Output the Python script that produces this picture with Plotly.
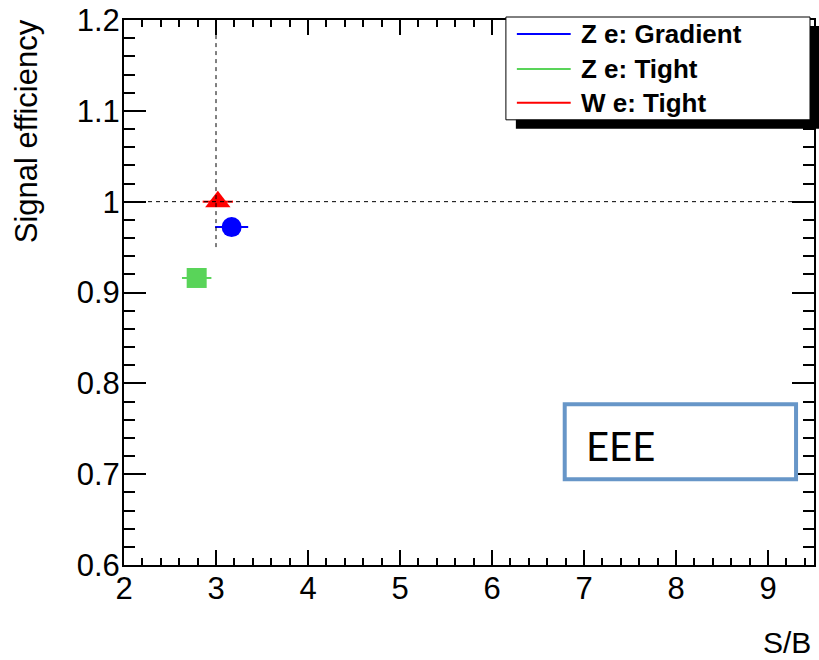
import plotly.graph_objects as go

# ---- data ----
series_names = ["Z e: Gradient", "Z e: Tight", "W e: Tight"]
sb_values = [3.17, 2.79, 3.02]
sb_errors = [0.18, 0.16, 0.165]
eff_values = [0.972, 0.916, 1.000]
series_colors = ["#0000ff", "#59d459", "#ff0000"]
series_symbols = ["circle", "square", "triangle-up"]
marker_sizes = [20, 20, 22]
ref_x = 3.0
ref_x_low = 0.95
ref_y = 1.0
x_range = [2, 9.5]
y_range = [0.6, 1.2]
region_label = "EEE"
x_title = "S/B"
y_title = "Signal efficiency"

W, H = 819, 660
L, R, T, B = 124, 3, 19, 95
pw, ph = W - L - R, H - T - B


def xp(px):
    return (px - L) / pw


def yp(py):
    return (H - B - py) / ph


FONT = "Liberation Sans, Arial, Helvetica, sans-serif"

fig = go.Figure()
for name, x, ex, y, c, s, ms in zip(series_names, sb_values, sb_errors, eff_values,
                                     series_colors, series_symbols, marker_sizes):
    fig.add_trace(go.Scatter(
        x=[x], y=[y], mode="markers", name=name,
        marker=dict(color=c, symbol=s, size=ms, line=dict(width=0)),
        error_x=dict(type="data", array=[ex], color=c, thickness=2, width=0),
        showlegend=False,
    ))

shapes = []
# reference dashed lines
shapes.append(dict(type="line", xref="x", yref="y", x0=x_range[0], x1=x_range[1], y0=ref_y, y1=ref_y,
                   line=dict(color="black", width=1, dash="4px,4px"), layer="above"))
shapes.append(dict(type="line", xref="x", yref="y", x0=ref_x, x1=ref_x, y0=ref_x_low, y1=y_range[1],
                   line=dict(color="black", width=1, dash="4px,4px"), layer="above"))
# legend shadow + box
shapes.append(dict(type="rect", xref="paper", yref="paper", x0=xp(517), x1=xp(824), y0=yp(128), y1=yp(25),
                   fillcolor="black", line=dict(width=0), layer="above"))
shapes.append(dict(type="rect", xref="paper", yref="paper", x0=xp(507), x1=xp(812), y0=yp(119), y1=yp(16),
                   fillcolor="white", line=dict(color="black", width=1), layer="above"))
annotations = []
legend_rows = [33, 68, 102]
for name, c, ry in zip(series_names, series_colors, legend_rows):
    shapes.append(dict(type="line", xref="paper", yref="paper", x0=xp(518), x1=xp(572), y0=yp(ry), y1=yp(ry),
                       line=dict(color=c, width=2), layer="above"))
    annotations.append(dict(text="<b>" + name + "</b>", xref="paper", yref="paper", x=xp(580), y=yp(ry),
                            xanchor="left", yanchor="middle", showarrow=False,
                            font=dict(family=FONT, size=26, color="black")))
# EEE box
shapes.append(dict(type="rect", xref="paper", yref="paper", x0=xp(566), x1=xp(798), y0=yp(479), y1=yp(404),
                   fillcolor="white", line=dict(color="#6796c8", width=4), layer="above"))
annotations.append(dict(text=region_label, xref="paper", yref="paper", x=xp(585), y=yp(446),
                        xanchor="left", yanchor="middle", showarrow=False,
                        font=dict(family="Lato, Open Sans, sans-serif", size=40, color="black")))
# axis titles
annotations.append(dict(text=x_title, xref="paper", yref="paper", x=xp(815), y=yp(643),
                        xanchor="right", yanchor="middle", showarrow=False,
                        font=dict(family=FONT, size=30, color="black")))
annotations.append(dict(text=y_title, xref="paper", yref="paper", x=xp(26), y=yp(16),
                        xanchor="center", yanchor="top", textangle=-90, showarrow=False,
                        font=dict(family=FONT, size=31, color="black")))

axis_common = dict(showgrid=False, zeroline=False, showline=True, linecolor="black", linewidth=2,
                   mirror="ticks", ticks="inside", tickcolor="black", tickwidth=1.5,
                   tickfont=dict(family=FONT, size=31, color="black"))
fig.update_layout(
    width=W, height=H, margin=dict(l=L, r=R, t=T, b=B),
    paper_bgcolor="white", plot_bgcolor="white",
    xaxis=dict(range=x_range, tick0=2, dtick=1, ticklen=15, ticklabelstandoff=-5,
               minor=dict(dtick=0.2, ticklen=7, ticks="inside", tickcolor="black", tickwidth=1.5, showgrid=False),
               **axis_common),
    yaxis=dict(range=y_range, tick0=0.6, dtick=0.1, ticklen=22, ticklabelstandoff=-4,
               minor=dict(dtick=0.02, ticklen=11, ticks="inside", tickcolor="black", tickwidth=1.5, showgrid=False),
               **axis_common),
    shapes=shapes, annotations=annotations, showlegend=False,
)
fig.write_html("out.html")
